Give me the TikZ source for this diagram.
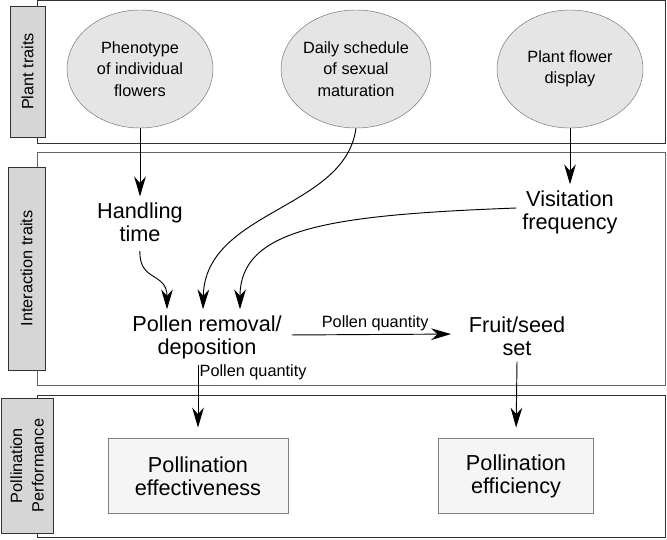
\documentclass[tikz,border=0pt]{standalone}
\usepackage{fontspec}
\setmainfont{Liberation Sans}
\usetikzlibrary{shapes,arrows.meta,positioning}
\newcommand{\fsbig}{\fontsize{18.5}{19.6}\selectfont}
\newcommand{\fssmall}{\fontsize{13.9}{18.3}\selectfont}

\begin{document}
\begin{tikzpicture}[x=0.03cm, y=-0.03cm,
    panel/.style={draw=black!80, line width=0.8pt},
    tab/.style={rectangle, draw=black!80, fill=black!16, rotate=90, font=\fssmall, align=center, inner sep=0pt, line width=0.8pt},
    trait/.style={ellipse, draw=black!55, fill=black!10, minimum width=4.38cm, minimum height=3.54cm, font=\fssmall, align=center, inner sep=0pt},
    itext/.style={align=center, font=\fsbig, inner sep=5pt},
    perfbox/.style={rectangle, draw=black!50, fill=black!4, font=\fsbig, align=center, minimum height=2.26cm},
    arr/.style={-{Stealth[length=17pt, width=10pt, inset=5.5pt]}, line width=0.8pt}]
    \useasboundingbox (0,0) rectangle (667,540);

    % Panels
    \draw[panel] (37,0.6) rectangle (665,143);
    \draw[panel, draw=black!60] (37,152) rectangle (665,385);
    \draw[panel] (37,395) rectangle (665,537);

    % Tabs
    \node[tab, minimum width=3.93cm, minimum height=1.05cm] (tabplant) at (27.5,71.5) {Plant traits};
    \node[tab, minimum width=6.09cm, minimum height=1.11cm] (tabinter) at (26.5,268.5) {Interaction traits};
    \node[tab, minimum width=4.05cm, minimum height=1.56cm] (tabperf) at (27,465.5) {Pollination\\Performance};

    % Plant traits
    \node[trait] (pheno) at (140,69) {Phenotype\\of individual\\flowers};
    \node[trait] (daily) at (356,69) {Daily schedule\\of sexual\\maturation};
    \node[trait] (display) at (570,69) {Plant flower\\display};

    % Interaction traits
    \node[itext] (handling) at (140,222) {Handling\\time};
    \node[itext] (visit) at (570,212) {Visitation\\frequency};
    \node[itext] (pollen) at (207,337) {Pollen removal/\\deposition};
    \node[itext] (fruit) at (517,336) {Fruit/seed\\set};

    % Performance
    \node[perfbox, minimum width=5.4cm] (effect) at (198,476) {Pollination\\effectiveness};
    \node[perfbox, minimum width=4.65cm] (effic) at (516,476) {Pollination\\efficiency};

    % Arrows
    \draw[arr] (pheno) -- (handling);
    \draw[arr] (display) -- (visit);
    \draw[arr, shorten <=3pt] (handling.south) .. controls (139,282) and (167,272) .. ([xshift=-1.2cm]pollen.north);
    \draw[arr] (daily.south) .. controls (345,210) and (205,210) .. ([xshift=-0.12cm]pollen.north);
    \draw[arr] ([yshift=0.12cm]visit.west) .. controls (330,215) and (240,228) .. ([xshift=0.99cm]pollen.north);
    \draw[arr, shorten <=3.5pt, shorten >=10pt] ([yshift=0.06cm]pollen.east) -- node[above, font=\fssmall, inner sep=3pt] {Pollen quantity} ([yshift=0.06cm]fruit.west);
    \draw[arr, shorten >=9pt] (pollen.south -| effect.north) -- node[pos=0.11, anchor=west, font=\fssmall, inner sep=1pt] {Pollen quantity} (effect.north);
    \draw[arr, shorten >=9pt] (fruit.south) -- (effic.north);
\end{tikzpicture}
\end{document}
